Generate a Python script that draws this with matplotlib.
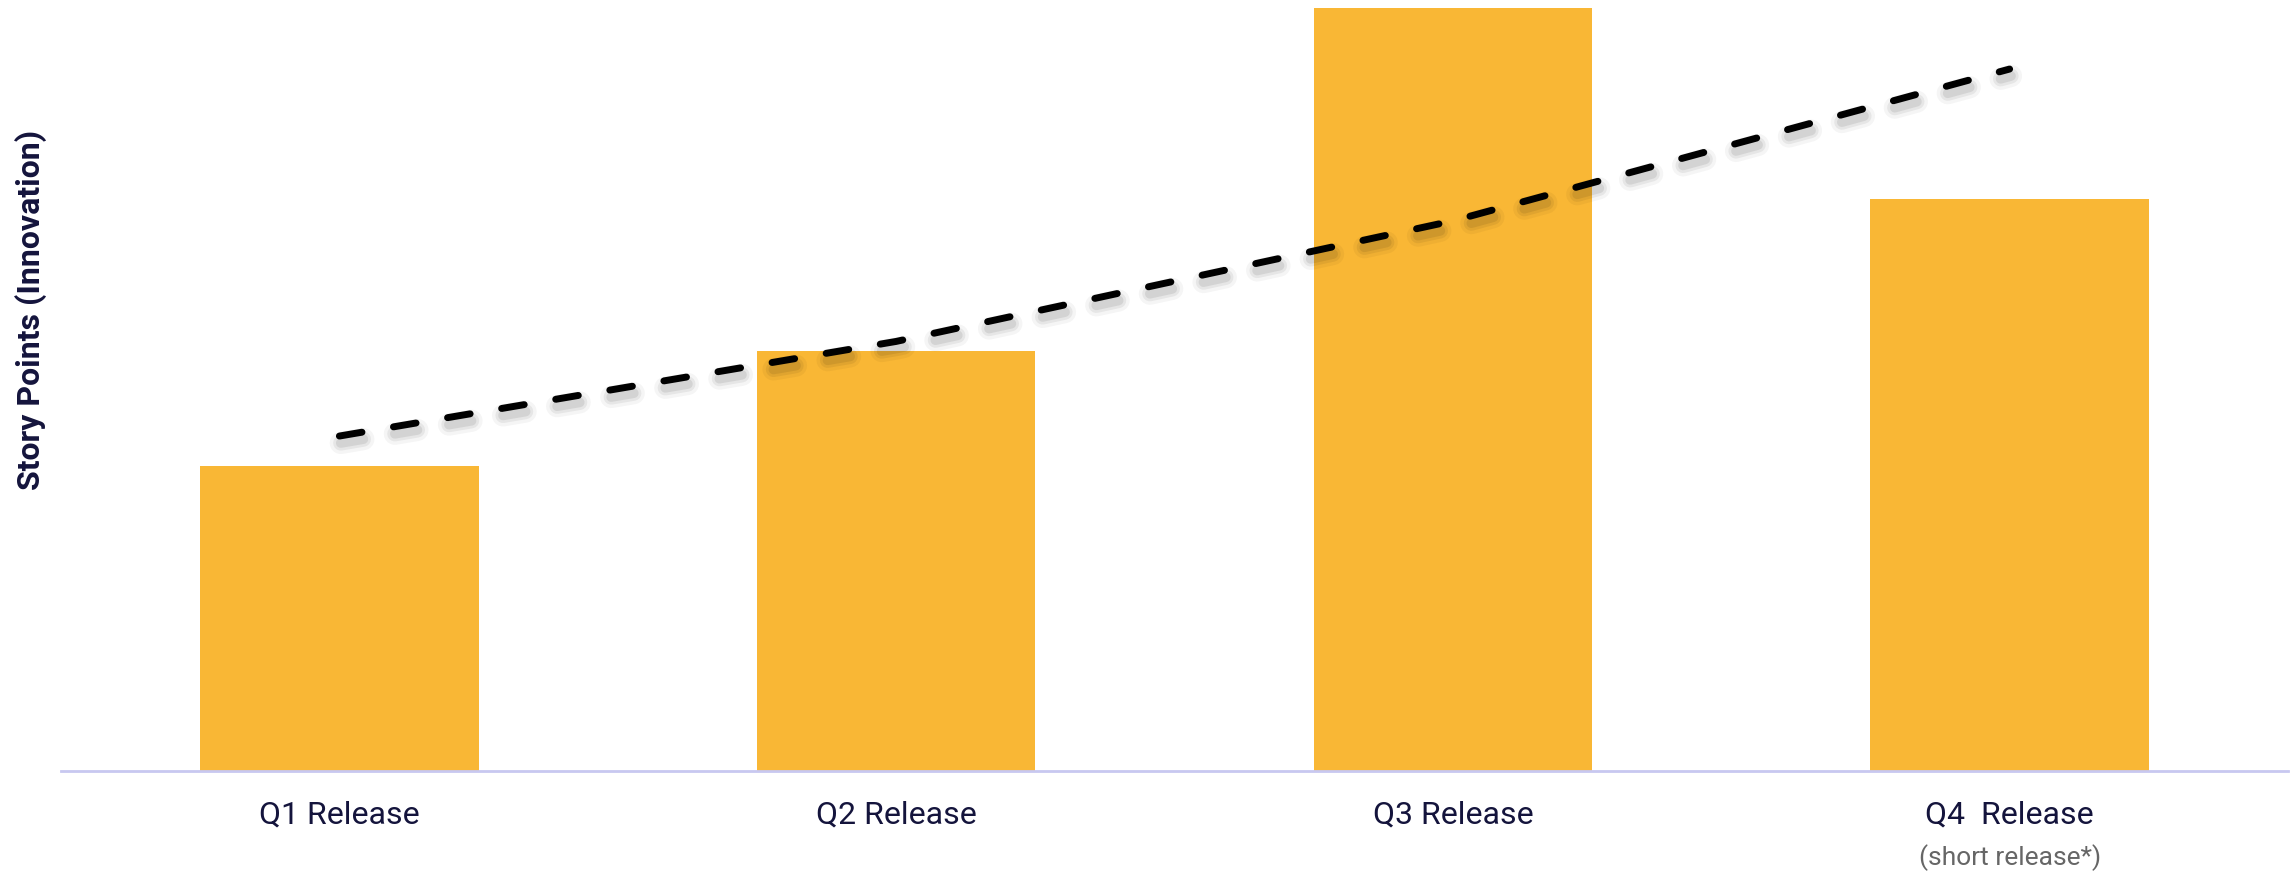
import numpy as np
import matplotlib.pyplot as plt
import matplotlib.patheffects as pe

plt.rcParams['font.family'] = ['Roboto', 'DejaVu Sans']

# 数据
releases = ['Q1 Release', 'Q2 Release', 'Q3 Release', 'Q4  Release']
story_points = [40, 55, 100, 75]
trend = [43.9, 56.3, 72.1, 92.0]   # 趋势线
note = '(short release*)'

bar_color = '#F9B735'
navy = '#14143C'

fig = plt.figure(figsize=(22.95, 8.71), dpi=100)
ax = fig.add_axes([61 / 2295, 100 / 871, 2227 / 2295, 763 / 871])

x = np.arange(len(releases))
ax.bar(x, story_points, width=0.5, color=bar_color, zorder=2)

# 虚线趋势线 + 阴影
shadow = [
    pe.SimpleLineShadow(offset=(1, -5), shadow_color='#000000', alpha=0.04, linewidth=16),
    pe.SimpleLineShadow(offset=(1, -5), shadow_color='#000000', alpha=0.06, linewidth=11),
    pe.SimpleLineShadow(offset=(1, -5), shadow_color='#000000', alpha=0.08, linewidth=7),
    pe.Normal(),
]
ax.plot(x, trend, color='black', lw=5, linestyle=(0, (3.3, 4.6)),
        dash_capstyle='round', zorder=3, path_effects=shadow)

ax.set_xlim(-0.5, 3.5)
ax.set_ylim(0, 100)
ax.set_yticks([])
ax.set_xticks(x, releases, fontsize=23, color=navy)
ax.tick_params(axis='x', length=0, pad=21)

for s in ['top', 'right', 'left']:
    ax.spines[s].set_visible(False)
ax.spines['bottom'].set_color('#C8C8F0')
ax.spines['bottom'].set_linewidth(2)

# Q4 备注
ax.text(3, -0.114, note, transform=ax.get_xaxis_transform(), ha='center', va='center',
        fontsize=19, color='#666666')

fig.text(31 / 2295, 1 - 310 / 871, 'Story Points (Innovation)', rotation=90,
         ha='center', va='center', fontsize=23, fontweight='bold', color=navy)

fig.savefig('out.png', dpi=100)
